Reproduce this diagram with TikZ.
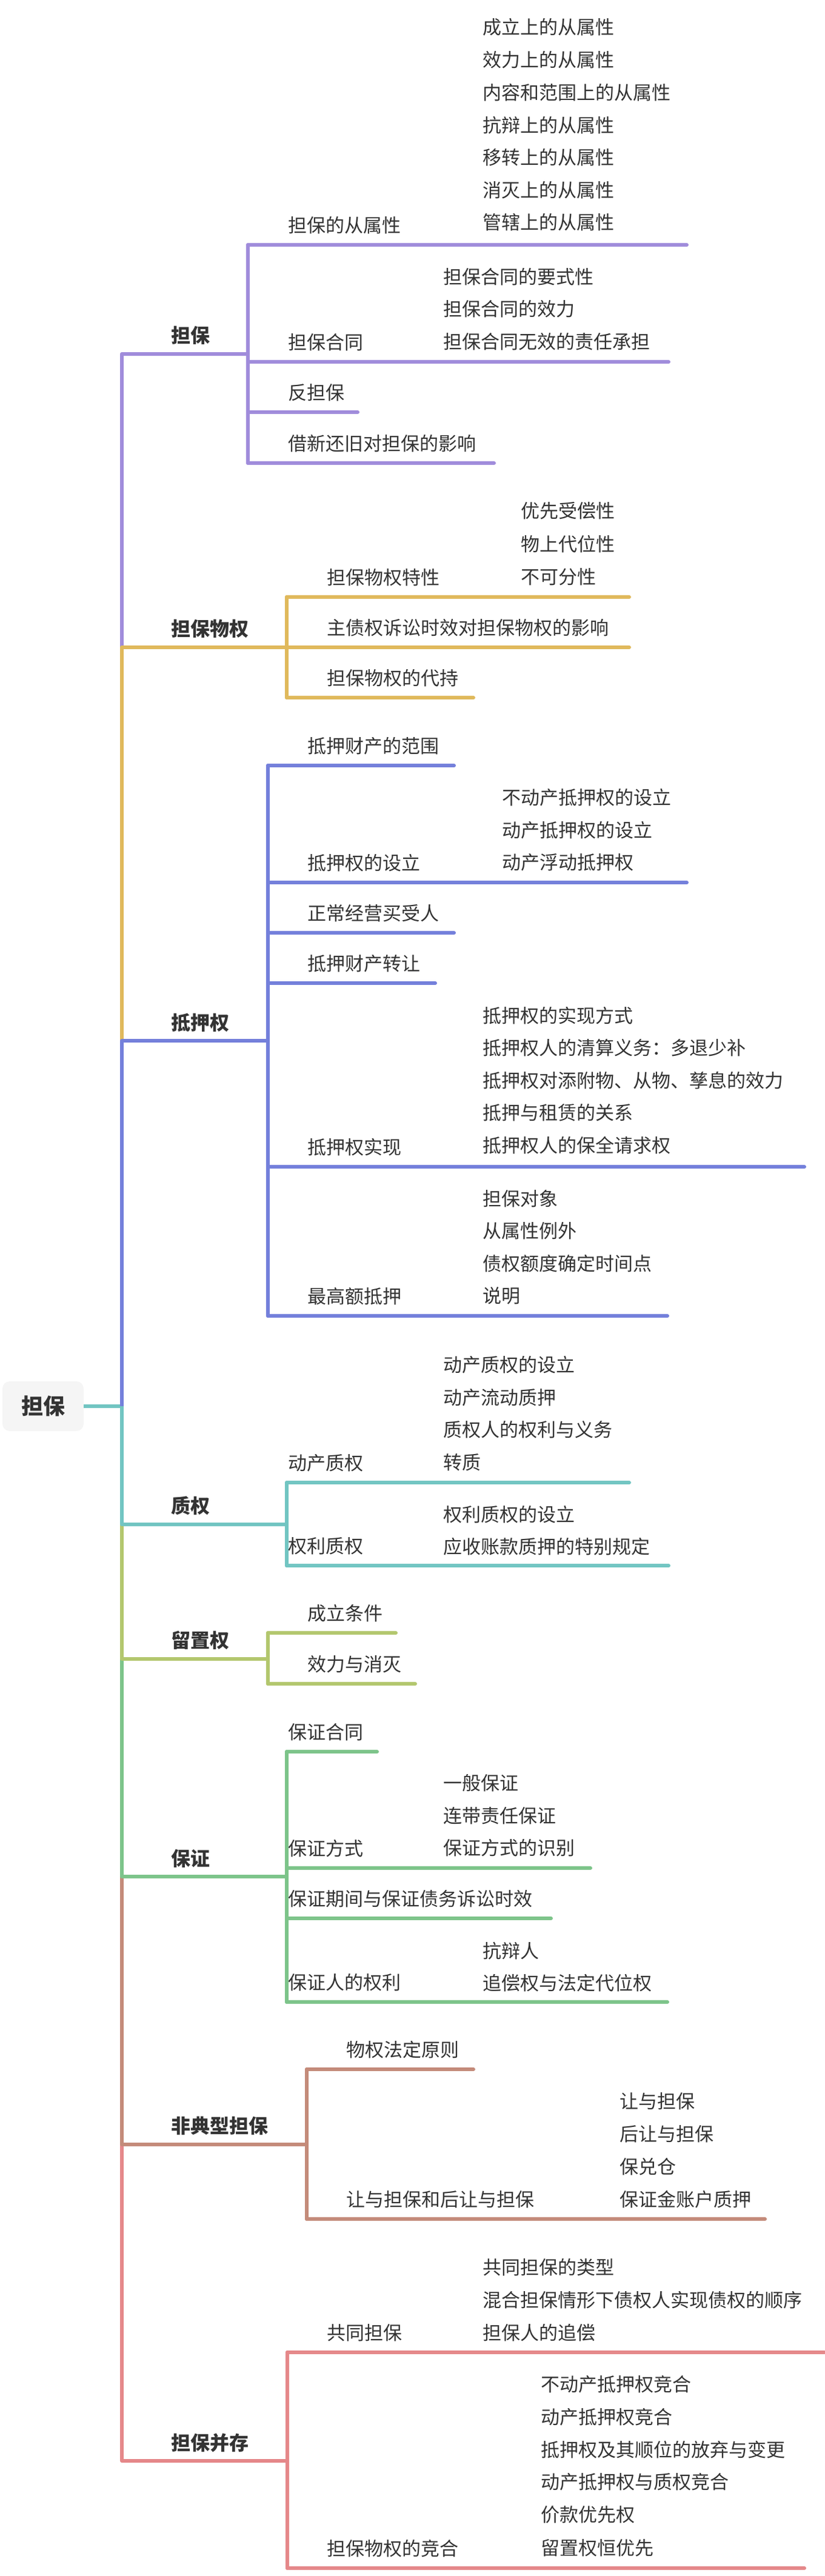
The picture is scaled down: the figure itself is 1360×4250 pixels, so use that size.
\documentclass[tikz,border=0pt]{standalone}
\usepackage{fontspec}
\setmainfont{Noto Sans CJK SC}
\usetikzlibrary{positioning}
\definecolor{cpurple}{HTML}{A08CDB}
\definecolor{cgold}{HTML}{E0B95C}
\definecolor{cblue}{HTML}{7480DB}
\definecolor{cteal}{HTML}{72C5C2}
\definecolor{clime}{HTML}{B3C76E}
\definecolor{cgreen}{HTML}{7DC48A}
\definecolor{cbrown}{HTML}{C48B7A}
\definecolor{cpink}{HTML}{E5888A}
\definecolor{ctext}{HTML}{333333}
\tikzset{
  br/.style={line width=3pt, line cap=round},
  tp/.style={anchor=west, inner sep=0pt, font=\fontsize{16}{16}\selectfont\bfseries, text=ctext},
  sb/.style={anchor=west, inner sep=0pt, font=\fontsize{15.5}{16}\selectfont, text=ctext},
  lf/.style={anchor=west, inner sep=0pt, font=\fontsize{15.5}{16}\selectfont, text=ctext},
}
\begin{document}
\begin{tikzpicture}[x=0.5pt, y=-0.5pt]
    \useasboundingbox (0,0) rectangle (1360,4250);

    % Root
    \node[fill=black!4, rounded corners=6pt, minimum width=67pt, minimum height=41pt,
        font=\fontsize{18}{18}\selectfont\bfseries, text=ctext] (root) at (71,2320) {担保};
    \draw[br, cteal, line cap=butt] (root.east) -- (201,2320);

    % Trunk segments
    \foreach \c/\ya/\yb in {cpurple/584/1068, cgold/1068/1717, cblue/1717/2320, cteal/2320/2515,
        clime/2515/2737, cgreen/2737/3096, cbrown/3096/3538, cpink/3538/4060} {
        \draw[br, \c, line cap=butt] (201,\ya) -- (201,\yb);
    }

    % 担保
    \node[tp] (t1) at (282,553) {担保};
    \draw[br, cpurple] (201,584) -- (409,584);
    \draw[br, cpurple] (409,404) -- (409,764);
    \foreach \y/\x/\t in {404/1133/担保的从属性, 597/1103/担保合同, 680/590/反担保, 764/815/借新还旧对担保的影响} {
        \draw[br, cpurple] (409,\y) -- (\x,\y);
        \node[sb] at (475,\y-32) {\t};
    }
    \foreach \y/\t in {45/成立上的从属性, 99/效力上的从属性, 153/内容和范围上的从属性, 207/抗辩上的从属性,
        260/移转上的从属性, 314/消灭上的从属性, 367/管辖上的从属性}
        \node[lf] at (796,\y) {\t};
    \foreach \y/\t in {457/担保合同的要式性, 510/担保合同的效力, 564/担保合同无效的责任承担}
        \node[lf] at (731,\y) {\t};

    % 担保物权
    \node[tp] (t2) at (282,1037) {担保物权};
    \draw[br, cgold] (201,1068) -- (473,1068);
    \draw[br, cgold] (473,985) -- (473,1151);
    \foreach \y/\x/\t in {985/1038/担保物权特性, 1068/1038/主债权诉讼时效对担保物权的影响, 1151/781/担保物权的代持} {
        \draw[br, cgold] (473,\y) -- (\x,\y);
        \node[sb] at (539,\y-32) {\t};
    }
    \foreach \y/\t in {843/优先受偿性, 898/物上代位性, 952/不可分性}
        \node[lf] at (859,\y) {\t};

    % 抵押权
    \node[tp] (t3) at (282,1687) {抵押权};
    \draw[br, cblue] (201,1717) -- (442,1717);
    \draw[br, cblue] (442,1263) -- (442,2171);
    \foreach \y/\x/\t in {1263/749/抵押财产的范围, 1456/1133/抵押权的设立, 1539/749/正常经营买受人,
        1622/718/抵押财产转让, 1925/1327/抵押权实现, 2171/1101/最高额抵押} {
        \draw[br, cblue] (442,\y) -- (\x,\y);
        \node[sb] at (507,\y-32) {\t};
    }
    \foreach \y/\t in {1316/不动产抵押权的设立, 1370/动产抵押权的设立, 1423/动产浮动抵押权}
        \node[lf] at (828,\y) {\t};
    \foreach \y/\t in {1676/抵押权的实现方式, 1729/抵押权人的清算义务：多退少补, 1783/抵押权对添附物、从物、孳息的效力,
        1836/抵押与租赁的关系, 1890/抵押权人的保全请求权, 1978/担保对象, 2031/从属性例外,
        2085/债权额度确定时间点, 2138/说明}
        \node[lf] at (796,\y) {\t};

    % 质权
    \node[tp] (t4) at (282,2484) {质权};
    \draw[br, cteal] (201,2515) -- (473,2515);
    \draw[br, cteal] (473,2446) -- (473,2583);
    \foreach \y/\x/\t in {2446/1038/动产质权, 2583/1103/权利质权} {
        \draw[br, cteal] (473,\y) -- (\x,\y);
        \node[sb] at (475+0,\y-32) {\t};
    }
    \foreach \y/\t in {2252/动产质权的设立, 2306/动产流动质押, 2359/质权人的权利与义务, 2413/转质,
        2499/权利质权的设立, 2552/应收账款质押的特别规定}
        \node[lf] at (731,\y) {\t};

    % 留置权
    \node[tp] (t5) at (282,2706) {留置权};
    \draw[br, clime] (201,2737) -- (442,2737);
    \draw[br, clime] (442,2694) -- (442,2778);
    \foreach \y/\x/\t in {2694/653/成立条件, 2778/685/效力与消灭} {
        \draw[br, clime] (442,\y) -- (\x,\y);
        \node[sb] at (507,\y-32) {\t};
    }

    % 保证
    \node[tp] (t6) at (282,3066) {保证};
    \draw[br, cgreen] (201,3096) -- (473,3096);
    \draw[br, cgreen] (473,2890) -- (473,3303);
    \foreach \y/\x/\t in {2890/622/保证合同, 3082/974/保证方式, 3165/909/保证期间与保证债务诉讼时效, 3303/1101/保证人的权利} {
        \draw[br, cgreen] (473,\y) -- (\x,\y);
        \node[sb] at (475,\y-32) {\t};
    }
    \foreach \y/\t in {2942/一般保证, 2996/连带责任保证, 3049/保证方式的识别}
        \node[lf] at (731,\y) {\t};
    \foreach \y/\t in {3219/抗辩人, 3272/追偿权与法定代位权}
        \node[lf] at (796,\y) {\t};

    % 非典型担保
    \node[tp] (t7) at (282,3507) {非典型担保};
    \draw[br, cbrown] (201,3538) -- (506,3538);
    \draw[br, cbrown] (506,3414) -- (506,3661);
    \foreach \y/\x/\t in {3414/781/物权法定原则, 3661/1262/让与担保和后让与担保} {
        \draw[br, cbrown] (506,\y) -- (\x,\y);
        \node[sb] at (571,\y-32) {\t};
    }
    \foreach \y/\t in {3467/让与担保, 3521/后让与担保, 3575/保兑仓, 3629/保证金账户质押}
        \node[lf] at (1022,\y) {\t};

    % 担保并存
    \node[tp] (t8) at (282,4030) {担保并存};
    \draw[br, cpink] (201,4060) -- (474,4060);
    \draw[br, cpink] (474,3881) -- (474,4237);
    \foreach \y/\x/\t in {3881/1360/共同担保, 4237/1327/担保物权的竞合} {
        \draw[br, cpink] (474,\y) -- (\x,\y);
        \node[sb] at (539,\y-32) {\t};
    }
    \foreach \y/\t in {3741/共同担保的类型, 3795/混合担保情形下债权人实现债权的顺序, 3849/担保人的追偿}
        \node[lf] at (796,\y) {\t};
    \foreach \y/\t in {3934/不动产抵押权竞合, 3988/动产抵押权竞合, 4042/抵押权及其顺位的放弃与变更,
        4095/动产抵押权与质权竞合, 4149/价款优先权, 4204/留置权恒优先}
        \node[lf] at (892,\y) {\t};

\end{tikzpicture}
\end{document}
